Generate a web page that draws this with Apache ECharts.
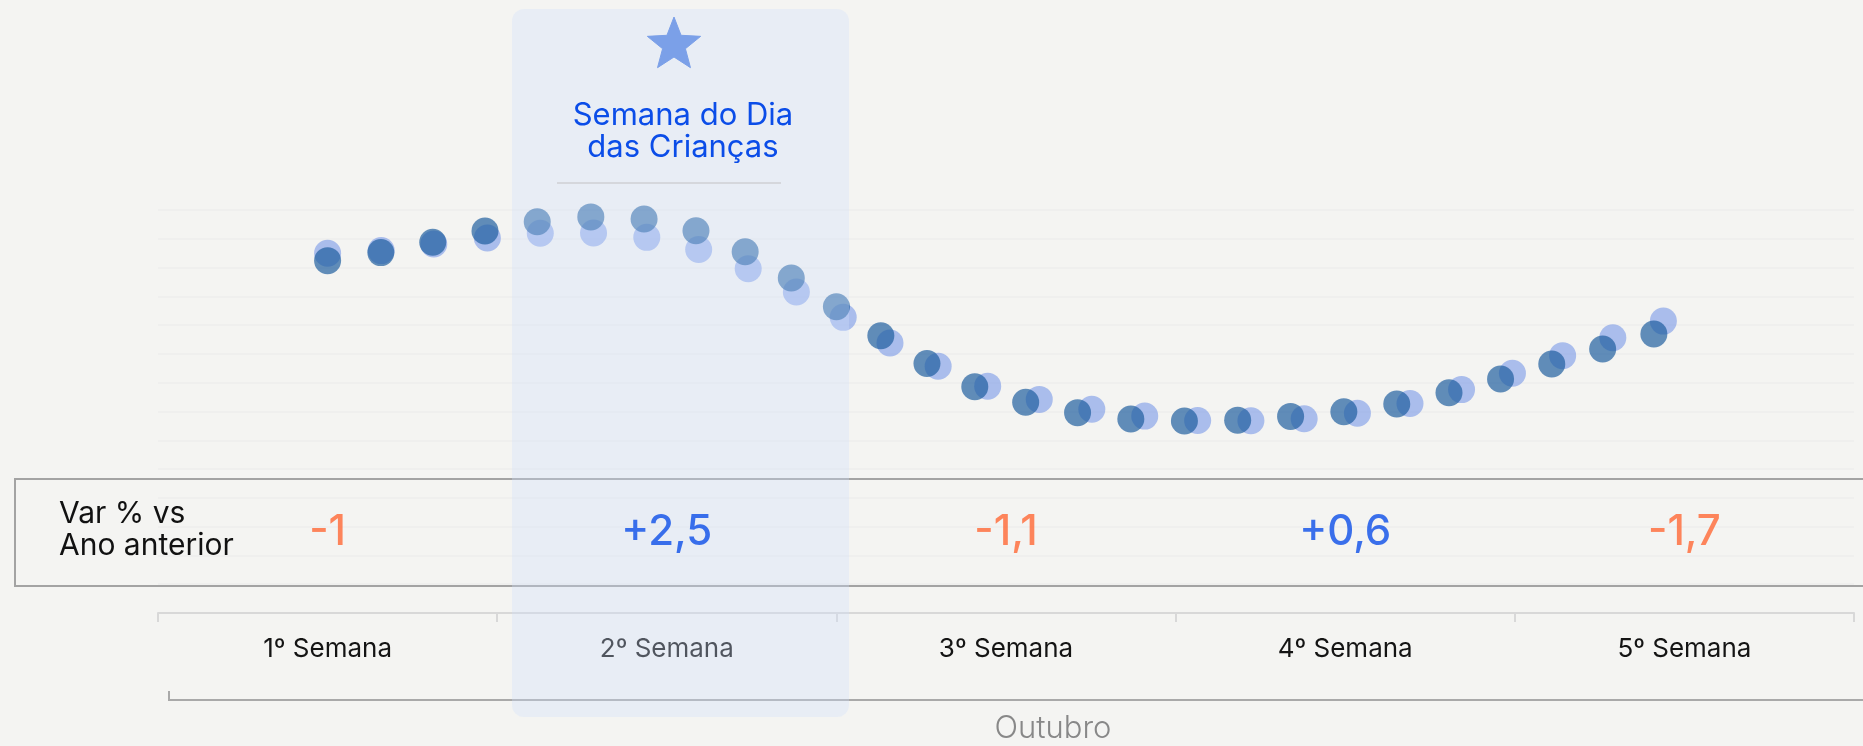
<!DOCTYPE html>
<html>
<head>
<meta charset="utf-8">
<script src="https://cdn.jsdelivr.net/npm/echarts@6/dist/echarts.min.js"></script>
<style>
  html, body { margin: 0; padding: 0; background: #f4f4f2; }
  #chart { width: 1863px; height: 746px; }
</style>
</head>
<body>
<div id="chart"></div>
<script>
// semanas de outubro
const weeks = ['1º Semana', '2º Semana', '3º Semana', '4º Semana', '5º Semana']
// var % vs ano anterior, por semana
const varValues = [-1, 2.5, -1.1, 0.6, -1.7]

// ano atual (pontos escuros): x em semanas, y em unidades da grade
const currX = [0.50, 0.657, 0.81, 0.964, 1.118, 1.276, 1.433, 1.586, 1.731, 1.867, 2.0, 2.131, 2.267, 2.408,
  2.558, 2.711, 2.868, 3.026, 3.183, 3.339, 3.496, 3.652, 3.806, 3.958, 4.109, 4.259, 4.41]
const currY = [12.24, 12.52, 12.88, 13.27, 13.59, 13.76, 13.69, 13.28, 12.55, 11.64, 10.64, 9.63, 8.67, 7.86,
  7.32, 6.96, 6.74, 6.67, 6.70, 6.83, 6.99, 7.26, 7.65, 8.13, 8.65, 9.17, 9.69]

// ano anterior (pontos claros)
const prevX = [0.50, 0.658, 0.813, 0.971, 1.127, 1.284, 1.441, 1.594, 1.74, 1.882, 2.02, 2.158, 2.30, 2.446,
  2.598, 2.753, 2.909, 3.065, 3.222, 3.379, 3.536, 3.691, 3.843, 3.993, 4.141, 4.289, 4.438]
const prevY = [12.50, 12.59, 12.82, 13.03, 13.19, 13.20, 13.05, 12.63, 11.96, 11.15, 10.27, 9.38, 8.57, 7.88,
  7.42, 7.08, 6.84, 6.69, 6.68, 6.75, 6.94, 7.28, 7.76, 8.33, 8.94, 9.56, 10.14]

const FONT = 'Inter, "Noto Sans", sans-serif'
const BLUE = '#0b4de8'
const ORANGE = '#ff6835'
const ROW_Y = 2.81

const zip = (xs, ys) => xs.map((x, i) => [x, ys[i]])
const fmtVar = v => (v > 0 ? '+' : '') + String(v).replace('.', ',')

function starPoints (cx, cy, R, r) {
  const pts = []
  for (let i = 0; i < 10; i++) {
    const a = -Math.PI / 2 + i * Math.PI / 5
    const rad = i % 2 === 0 ? R : r
    pts.push([cx + rad * Math.cos(a), cy + rad * Math.sin(a)])
  }
  return pts
}

const chart = echarts.init(document.getElementById('chart'), null, { renderer: 'canvas' })

chart.setOption({
  backgroundColor: '#f4f4f2',
  animation: false,
  grid: { left: 158, right: 9, top: 210, bottom: 133 },
  xAxis: [
    {
      type: 'category',
      data: weeks,
      boundaryGap: true,
      axisLine: { lineStyle: { color: '#d8d8d8', width: 2 } },
      axisTick: { show: true, length: 9, lineStyle: { color: '#d8d8d8', width: 2 } },
      axisLabel: { fontFamily: FONT, fontSize: 26, color: '#141414', margin: 23 },
      splitLine: { show: false }
    },
    { type: 'value', min: 0, max: 5, show: false }
  ],
  yAxis: {
    type: 'value',
    min: 0,
    max: 14,
    interval: 1,
    axisLine: { show: false },
    axisTick: { show: false },
    axisLabel: { show: false },
    splitLine: { lineStyle: { color: '#eeeeec', width: 1.5 } }
  },
  series: [
    {
      name: 'Ano anterior',
      type: 'scatter',
      xAxisIndex: 1,
      symbolSize: 27,
      itemStyle: { color: 'rgba(118,150,232,0.74)' },
      data: zip(prevX, prevY),
      z: 2
    },
    {
      name: 'Ano atual',
      type: 'scatter',
      xAxisIndex: 1,
      symbolSize: 27,
      itemStyle: { color: 'rgba(28,92,158,0.86)' },
      data: zip(currX, currY),
      z: 3
    },
    {
      name: 'Var %',
      type: 'scatter',
      xAxisIndex: 0,
      symbolSize: 0,
      silent: true,
      z: 60,
      data: varValues.map((v, i) => ({
        value: [weeks[i], ROW_Y],
        label: { color: v > 0 ? BLUE : ORANGE }
      })),
      label: {
        show: true,
        position: 'inside',
        fontFamily: FONT,
        fontSize: 42,
        fontWeight: 500,
        formatter: p => fmtVar(varValues[p.dataIndex])
      }
    }
  ],
  graphic: [
    // caixa da linha de variacao
    {
      type: 'rect',
      z: 5,
      shape: { x: 15, y: 479, width: 1870, height: 107 },
      style: { fill: 'none', stroke: '#a3a3a3', lineWidth: 2 }
    },
    {
      type: 'text',
      z: 5,
      x: 59,
      y: 530,
      style: {
        text: 'Var % vs\nAno anterior',
        font: '30px ' + FONT,
        fill: '#111',
        lineHeight: 32,
        verticalAlign: 'middle'
      }
    },
    // colchete "Outubro"
    {
      type: 'polyline',
      z: 5,
      shape: { points: [[169, 691], [169, 700], [1870, 700]] },
      style: { stroke: '#a9a9a9', lineWidth: 2, fill: 'none' }
    },
    {
      type: 'text',
      z: 5,
      x: 1053,
      y: 729,
      style: {
        text: 'Outubro',
        font: '300 31px ' + FONT,
        fill: '#888888',
        align: 'center',
        verticalAlign: 'middle'
      }
    },
    // destaque da semana do dia das criancas
    {
      type: 'rect',
      z: 50,
      shape: { x: 512, y: 9, width: 337, height: 708, r: 12 },
      style: { fill: 'rgba(208,225,252,0.32)' }
    },
    {
      type: 'polygon',
      z: 60,
      shape: { points: starPoints(674, 45, 28, 12) },
      style: { fill: '#7ba0e8', lineJoin: 'round', stroke: '#7ba0e8', lineWidth: 1 }
    },
    {
      type: 'text',
      z: 60,
      x: 683,
      y: 132,
      style: {
        text: 'Semana do Dia\ndas Crianças',
        font: '31px ' + FONT,
        fill: BLUE,
        align: 'center',
        verticalAlign: 'middle',
        lineHeight: 32
      }
    },
    {
      type: 'line',
      z: 60,
      shape: { x1: 557, y1: 183, x2: 781, y2: 183 },
      style: { stroke: '#d5d7dc', lineWidth: 2 }
    }
  ]
})
</script>
</body>
</html>
